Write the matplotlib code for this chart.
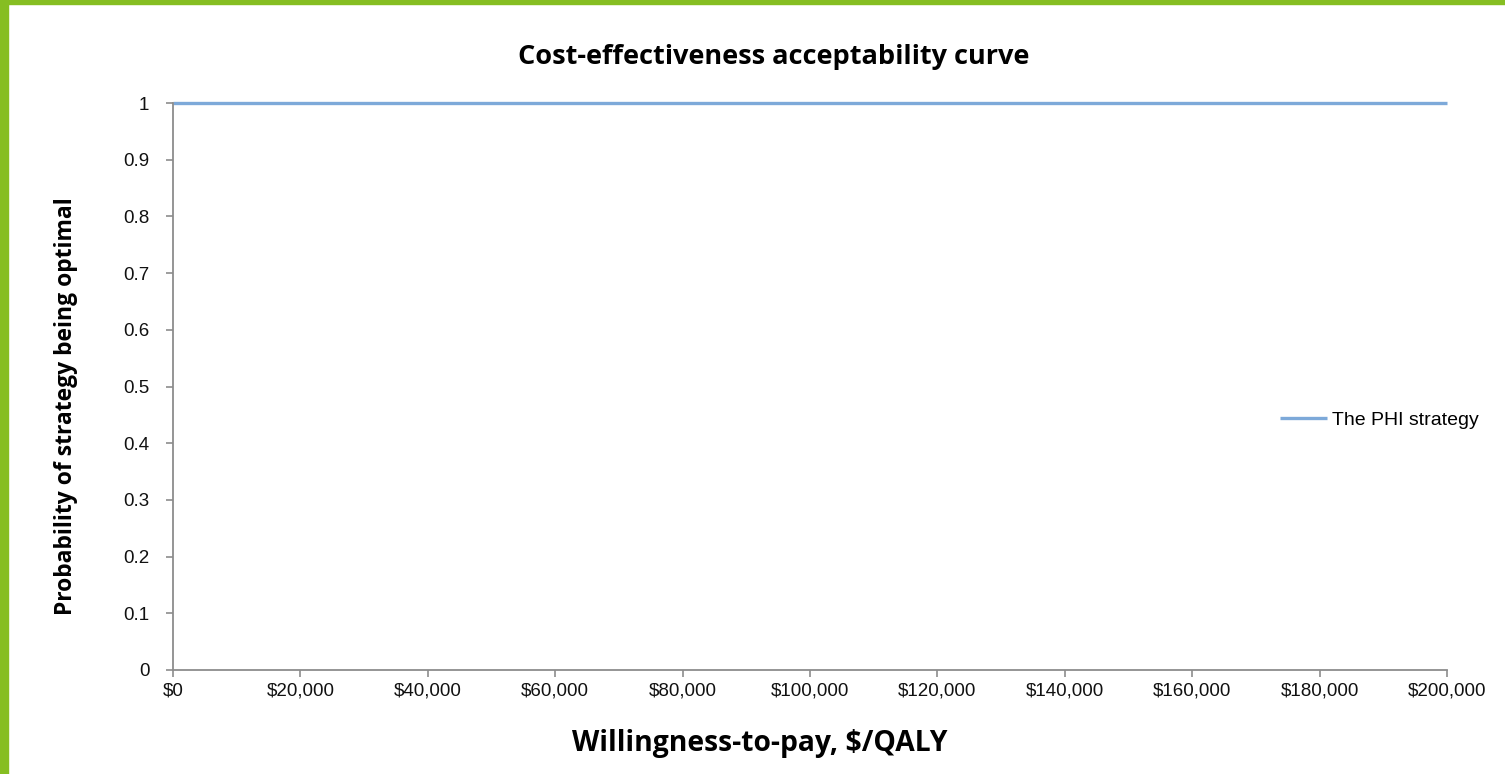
import matplotlib
matplotlib.use('Agg')
import matplotlib.pyplot as plt
from matplotlib.patches import Rectangle

# willingness-to-pay grid and probability of PHI strategy being optimal
wtp = [0, 20000, 40000, 60000, 80000, 100000, 120000, 140000, 160000, 180000, 200000]
prob_phi = [1, 1, 1, 1, 1, 1, 1, 1, 1, 1, 1]
y_ticks = [0, 0.1, 0.2, 0.3, 0.4, 0.5, 0.6, 0.7, 0.8, 0.9, 1]
y_labels = ['0', '0.1', '0.2', '0.3', '0.4', '0.5', '0.6', '0.7', '0.8', '0.9', '1']
x_labels = ['$' + format(v, ',') for v in wtp]

fig = plt.figure(figsize=(15.05, 7.74), dpi=100)

# green slide border, left and top
fig.patches.append(Rectangle((0, 0), 8 / 1505, 1, transform=fig.transFigure,
                             color='#86BE22', zorder=0))
fig.patches.append(Rectangle((0, 1 - 4 / 774), 1, 4 / 774, transform=fig.transFigure,
                             color='#86BE22', zorder=0))

ax = fig.add_axes([173 / 1505, 1 - 670 / 774, 1274 / 1505, 567 / 774])
ax.plot(wtp, prob_phi, color='#7DA9D9', lw=2.4, label='The PHI strategy',
        solid_capstyle='butt', clip_on=False)

ax.set_xlim(0, 200000)
ax.set_ylim(0, 1)
ax.set_xticks(wtp)
ax.set_xticklabels(x_labels)
ax.set_yticks(y_ticks)
ax.set_yticklabels(y_labels)

for side in ['top', 'right']:
    ax.spines[side].set_visible(False)
for side in ['left', 'bottom']:
    ax.spines[side].set_color('#8C8C8C')
    ax.spines[side].set_linewidth(1.3)
ax.tick_params(colors='#8C8C8C', length=5, width=1.2, labelcolor='#111111')
ax.tick_params(axis='x', pad=4)
ax.tick_params(axis='y', pad=12)
for lab in ax.get_xticklabels() + ax.get_yticklabels():
    lab.set_fontfamily('Liberation Sans')
    lab.set_fontsize(13.5)

fig.text(774 / 1505, 1 - 57 / 774, 'Cost-effectiveness acceptability curve',
         ha='center', va='center', fontsize=19.5, fontweight='bold', family='Open Sans')
fig.text(760 / 1505, 1 - 743 / 774, 'Willingness-to-pay, $/QALY',
         ha='center', va='center', fontsize=20.3, fontweight='bold', family='Open Sans')
fig.text(66 / 1505, 1 - 406 / 774, 'Probability of strategy being optimal',
         ha='center', va='center', rotation=90, fontsize=16.5, fontweight='bold',
         family='Open Sans')

leg = ax.legend(loc='center left', bbox_to_anchor=((1280 - 173) / 1274, (670 - 420) / 567),
                frameon=False, borderpad=0, borderaxespad=0,
                handlelength=2.4, handletextpad=0.3,
                prop={'family': 'Liberation Sans', 'size': 14})

fig.savefig('out.png', dpi=100)
